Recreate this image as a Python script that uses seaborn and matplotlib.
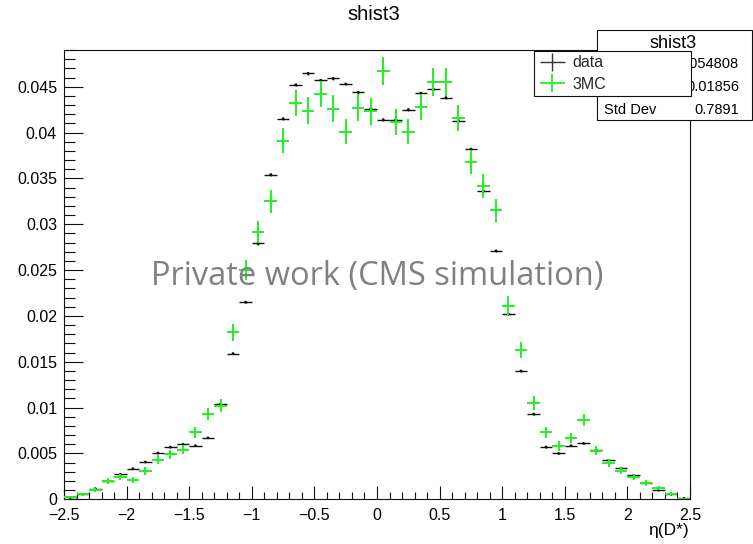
import numpy as np
import pandas as pd
import matplotlib
matplotlib.use("Agg")
import matplotlib.pyplot as plt
import seaborn as sns
from matplotlib.lines import Line2D
from matplotlib.path import Path
from matplotlib.patches import Rectangle
from matplotlib.ticker import MultipleLocator, FuncFormatter

# ---------------- data ----------------
eta_centers = [-2.45, -2.35, -2.25, -2.15, -2.05, -1.95, -1.85, -1.75, -1.65, -1.55,
               -1.45, -1.35, -1.25, -1.15, -1.05, -0.95, -0.85, -0.75, -0.65, -0.55,
               -0.45, -0.35, -0.25, -0.15, -0.05, 0.05, 0.15, 0.25, 0.35, 0.45,
               0.55, 0.65, 0.75, 0.85, 0.95, 1.05, 1.15, 1.25, 1.35, 1.45,
               1.55, 1.65, 1.75, 1.85, 1.95, 2.05, 2.15, 2.25, 2.35, 2.45]
bin_half_width = 0.05

data_vals = [0.0002, 0.00054, 0.00116, 0.00196, 0.00272, 0.00334, 0.00407, 0.00505, 0.0057, 0.0060,
             0.00585, 0.0067, 0.0104, 0.0159, 0.0215, 0.0279, 0.0354, 0.0415, 0.0452, 0.04645,
             0.0457, 0.0459, 0.0453, 0.0444, 0.0426, 0.0414, 0.0414, 0.0425, 0.0443, 0.0447,
             0.0438, 0.0413, 0.0382, 0.0336, 0.0271, 0.0202, 0.0140, 0.0093, 0.0057, 0.0050,
             0.00585, 0.0061, 0.0054, 0.00426, 0.0034, 0.0026, 0.0018, 0.0010, 0.00056, 0.0001]
data_errs = [0.00001, 0.000016, 0.000024, 0.000031, 0.000037, 0.00004, 0.000045, 0.00005, 0.000053, 0.000054,
             0.000054, 0.000057, 0.000071, 0.000088, 0.0001, 0.000117, 0.000132, 0.000143, 0.000149, 0.000151,
             0.00015, 0.00015, 0.000149, 0.000148, 0.000144, 0.000142, 0.000142, 0.000144, 0.000147, 0.000148,
             0.000146, 0.000142, 0.000137, 0.000128, 0.000115, 0.0001, 0.000083, 0.000068, 0.000053, 0.00005,
             0.000054, 0.000055, 0.000051, 0.000046, 0.000041, 0.000036, 0.00003, 0.000022, 0.000017, 0.000007]

mc_vals = [0.0002, 0.00056, 0.00098, 0.00196, 0.00243, 0.00214, 0.00309, 0.00432, 0.0049, 0.0054,
           0.0073, 0.0093, 0.0102, 0.0182, 0.0250, 0.0291, 0.0325, 0.0391, 0.0432, 0.0424,
           0.0442, 0.0426, 0.0401, 0.0427, 0.0423, 0.0467, 0.0411, 0.0401, 0.0428, 0.0455,
           0.0455, 0.0416, 0.0368, 0.0342, 0.0315, 0.0211, 0.0163, 0.0105, 0.0073, 0.0058,
           0.0067, 0.0086, 0.0053, 0.0040, 0.0031, 0.0024, 0.0018, 0.0012, 0.0006, 0.00005]
mc_errs = [0.0001, 0.00017, 0.00022, 0.00031, 0.00035, 0.00032, 0.00039, 0.00046, 0.00049, 0.00051,
           0.0006, 0.00067, 0.00071, 0.00094, 0.0011, 0.0012, 0.00126, 0.00138, 0.00145, 0.00144,
           0.00147, 0.00144, 0.0014, 0.00145, 0.00144, 0.00151, 0.00142, 0.0014, 0.00145, 0.00149,
           0.00149, 0.00143, 0.00134, 0.0013, 0.00124, 0.00102, 0.00089, 0.00072, 0.0006, 0.00053,
           0.00057, 0.00065, 0.00051, 0.00044, 0.00039, 0.00034, 0.0003, 0.00024, 0.00017, 0.00005]

series_labels = ["data", "3MC"]
hist_name = "shist3"
stat_names = ["Entries", "Mean", "Std Dev"]
stat_values = ["1054808", "0.01856", "0.7891"]
x_label = "\u03b7(D*)"
watermark = "Private work (CMS simulation)"

df_data = pd.DataFrame({"eta": eta_centers, "val": data_vals, "err": data_errs})
df_mc = pd.DataFrame({"eta": eta_centers, "val": mc_vals, "err": mc_errs})

# ---------------- style ----------------
sns.set_theme(style="ticks")
plt.rcParams["font.family"] = ["Liberation Sans", "DejaVu Sans"]

W, H = 753, 544
fig = plt.figure(figsize=(W / 100, H / 100), dpi=100)
fig.patch.set_facecolor("white")

ax_l, ax_r, ax_t, ax_b = 64, 690, 50, 499.3
ax = fig.add_axes([ax_l / W, 1 - ax_b / H, (ax_r - ax_l) / W, (ax_b - ax_t) / H])
ax.set_facecolor("white")

black = "#111111"
green = "#22f022"

ax.errorbar(df_data["eta"], df_data["val"], yerr=df_data["err"], xerr=bin_half_width,
            fmt="none", ecolor=black, elinewidth=1.0, capsize=0, zorder=3)
sns.scatterplot(data=df_data, x="eta", y="val", s=4, color=black, edgecolor="none",
                ax=ax, legend=False, zorder=4)
ax.errorbar(df_mc["eta"], df_mc["val"], yerr=df_mc["err"], xerr=bin_half_width,
            fmt="none", ecolor=green, elinewidth=1.4, capsize=0, zorder=5)

ax.set_xlim(-2.5, 2.5)
ax.set_ylim(0, 0.049)
ax.set_xlabel("")
ax.set_ylabel("")

ax.xaxis.set_major_locator(MultipleLocator(0.5))
ax.xaxis.set_minor_locator(MultipleLocator(0.1))
ax.yaxis.set_major_locator(MultipleLocator(0.005))
ax.yaxis.set_minor_locator(MultipleLocator(0.001))
ax.xaxis.set_major_formatter(FuncFormatter(lambda v, p: f"{round(v, 3):g}".replace("-", "\u2212")))
ax.yaxis.set_major_formatter(FuncFormatter(lambda v, p: f"{round(v, 4):g}"))

ax.tick_params(axis="both", which="both", direction="in", top=False, right=False,
               color=black, width=0.8, labelsize=11.5, labelcolor="black")
ax.tick_params(axis="y", which="major", length=13.7, pad=5)
ax.tick_params(axis="y", which="minor", length=8)
ax.tick_params(axis="x", which="major", length=9.4, pad=6.5)
ax.tick_params(axis="x", which="minor", length=5)
for s in ax.spines.values():
    s.set_visible(True)
    s.set_color(black)
    s.set_linewidth(0.8)

# title
fig.text(374 / W, 1 - 14 / H, hist_name, ha="center", va="center", fontsize=14.5, color="black")

# x label
fig.text(689 / W, 1 - 531 / H, x_label, ha="right", va="center", fontsize=12.5, color="black")

# stats box
rect = Rectangle((597 / W, 1 - 120 / H), (752 - 597) / W, (120 - 30) / H,
                 transform=fig.transFigure, facecolor="white", edgecolor=black,
                 linewidth=0.8, zorder=1)
fig.add_artist(rect)
fig.text(673 / W, 1 - 44 / H, hist_name, ha="center", va="center", fontsize=13, color="black")
for i, (n, v) in enumerate(zip(stat_names, stat_values)):
    yy = 1 - (64 + 23 * i) / H
    fig.text(604 / W, yy, n, ha="left", va="center", fontsize=10.5, color="black")
    fig.text(739 / W, yy, v, ha="right", va="center", fontsize=10.5, color="black")

# legend with cross handles
cross = Path([(-1, 0), (1, 0), (0, -0.7), (0, 0.7)],
             [Path.MOVETO, Path.LINETO, Path.MOVETO, Path.LINETO])
h_data = Line2D([], [], linestyle="none", marker=cross, markersize=18,
                markeredgecolor="#333333", markerfacecolor="none", markeredgewidth=1.0)
h_mc = Line2D([], [], linestyle="none", marker=cross, markersize=18,
              markeredgecolor=green, markerfacecolor="none", markeredgewidth=1.3)
leg = fig.legend([h_data, h_mc], series_labels, loc="upper left",
                 bbox_to_anchor=(534 / W, 1 - 106 / H, 157 / W, 55.5 / H),
                 bbox_transform=fig.transFigure, mode="expand", borderaxespad=0,
                 frameon=True, fancybox=False, framealpha=1, edgecolor=black,
                 fontsize=11.5, borderpad=0.3, labelspacing=0.4,
                 handlelength=1.6, handletextpad=0.5, numpoints=1)
leg.get_frame().set_linewidth(0.8)
leg.set_zorder(10)

# watermark
wm = fig.text(377.5 / W, 1 - 285 / H, watermark, ha="center", va="baseline",
              fontsize=23, color="#808080", family=["Open Sans", "DejaVu Sans"], zorder=20)
fig.canvas.draw()
bb = wm.get_window_extent(fig.canvas.get_renderer())
wm.set_fontsize(23 * 455 / bb.width)

fig.savefig("out.png", dpi=100, facecolor="white")
